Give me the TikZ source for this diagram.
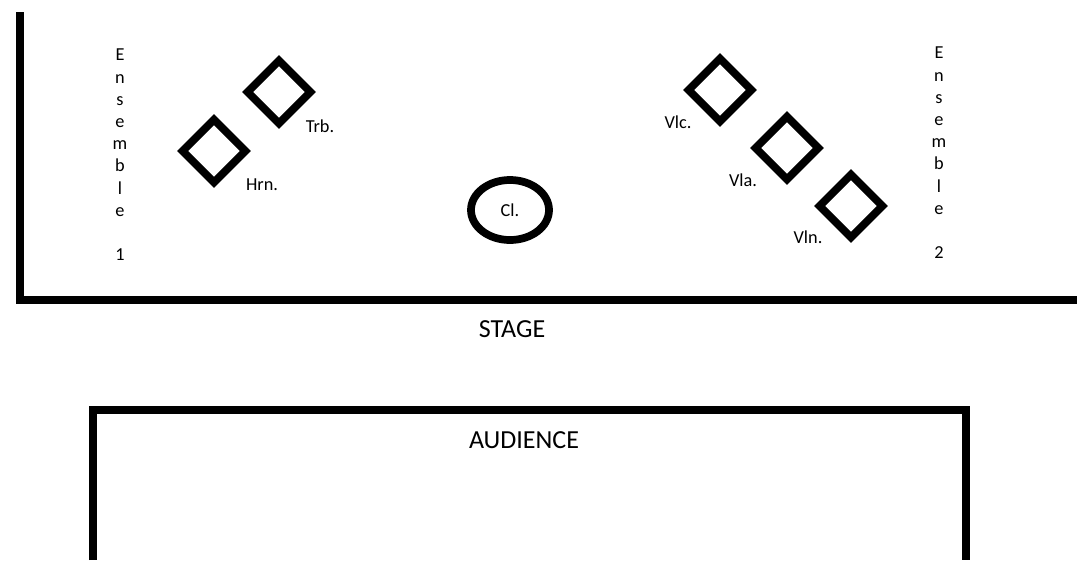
\documentclass[tikz,border=0pt]{standalone}
\usepackage{fontspec}
\setmainfont{Carlito}
\usetikzlibrary{shapes.geometric,positioning}
\tikzstyle{wall}=[line width=5.5pt]
\tikzstyle{player}=[diamond,draw,line width=5.5pt,minimum width=1.65cm,minimum height=1.65cm,inner sep=0pt]
\tikzstyle{soloist}=[ellipse,draw,line width=5.5pt,minimum width=1.95cm,minimum height=1.5cm,inner sep=0pt,font=\fontsize{13}{15}\selectfont]
\tikzstyle{part}=[inner sep=0pt,font=\fontsize{13}{15}\selectfont]
\tikzstyle{ensemble}=[inner sep=0pt,align=center,font=\fontsize{13}{15.8}\selectfont]
\tikzstyle{area}=[inner sep=0pt,font=\fontsize{18.5}{22}\selectfont]

\begin{document}
\begin{tikzpicture}[x=0.025cm,y=-0.025cm]
        \useasboundingbox (0,0) rectangle (1077,560);

        % stage and audience
        \draw [wall] (20,12) -- (20,300) -- (1077,300);
        \draw [wall] (93,560) -- (93,410) -- (966,410) -- (966,560);
        \node at (512,329) [area] (stage)    {STAGE};
        \node at (524,440) [area] (audience) {AUDIENCE};

        % ensemble 1
        \node at (120,155) [ensemble] (ens1) {E\\n\\s\\e\\m\\b\\l\\e\\\mbox{}\\1};
        \node at (279,92)  [player]   (trb)  {};
        \node at (214,151) [player]   (hrn)  {};
        \node at (320,126) [part]     (trbl) {Trb.};
        \node at (262,185) [part]     (hrnl) {Hrn.};

        % soloist
        \node at (510,210) [soloist]  (cl)   {Cl.};

        % ensemble 2
        \node at (939,153) [ensemble] (ens2) {E\\n\\s\\e\\m\\b\\l\\e\\\mbox{}\\2};
        \node at (720,90)  [player]   (vlc)  {};
        \node at (787,148) [player]   (vla)  {};
        \node at (851,206) [player]   (vln)  {};
        \node at (678,122) [part]     (vlcl) {Vlc.};
        \node at (743,180) [part]     (vlal) {Vla.};
        \node at (808,237) [part]     (vlnl) {Vln.};
      \end{tikzpicture}
\end{document}
